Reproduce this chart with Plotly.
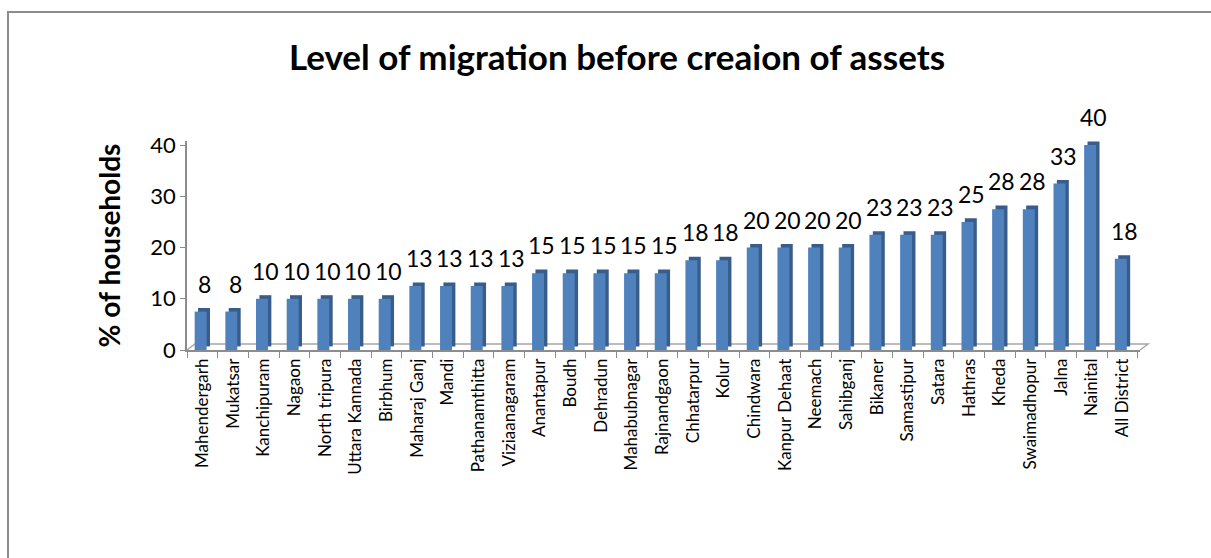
import plotly.graph_objects as go

districts = ["Mahendergarh", "Mukatsar", "Kanchipuram", "Nagaon", "North tripura",
             "Uttara Kannada", "Birbhum", "Maharaj Ganj", "Mandi", "Pathanamthitta",
             "Viziaanagaram", "Anantapur", "Boudh", "Dehradun", "Mahabubnagar",
             "Rajnandgaon", "Chhatarpur", "Kolur", "Chindwara", "Kanpur Dehaat",
             "Neemach", "Sahibganj", "Bikaner", "Samastipur", "Satara", "Hathras",
             "Kheda", "Swaimadhopur", "Jalna", "Nainital", "All District"]
values = [7.5, 7.5, 10, 10, 10, 10, 10, 12.5, 12.5, 12.5, 12.5, 15, 15, 15, 15, 15,
          17.5, 17.5, 20, 20, 20, 20, 22.5, 22.5, 22.5, 25, 27.5, 27.5, 32.5, 40, 17.8]
labels = ["8", "8", "10", "10", "10", "10", "10", "13", "13", "13", "13", "15", "15",
          "15", "15", "15", "18", "18", "20", "20", "20", "20", "23", "23", "23", "25",
          "28", "28", "33", "40", "18"]
y_ticks = [0, 10, 20, 30, 40]

FONT = "Lato"
depth = 0.7

fig = go.Figure()
# side / top face (3D look)
fig.add_trace(go.Bar(x=districts, y=values, base=[depth] * len(values),
                     width=0.39, offset=-0.14,
                     marker=dict(color="#385D8A", line=dict(width=0)),
                     hoverinfo="skip", showlegend=False))
# front face
fig.add_trace(go.Bar(x=districts, y=values,
                     width=0.39, offset=-0.25,
                     marker=dict(color="#4F81BD", line=dict(width=0)),
                     showlegend=False))

for d, v, t in zip(districts, values, labels):
    fig.add_annotation(x=d, y=v, text=t,
                       showarrow=False, yshift=28, xshift=2, yanchor="middle",
                       font=dict(family=FONT, size=23, color="black"))

# floor (3D) outline
dx, dy = 8 / 953, 6 / 209
fig.add_shape(type="path", xref="paper", yref="paper",
              path=f"M 0,0 L {dx},{dy} L {1+dx},{dy} L 1,0",
              line=dict(color="#A6A6A6", width=1.5), layer="below")
# outer chart border
fig.add_shape(type="rect", xref="paper", yref="paper",
              x0=(8 - 187) / 953, x1=1.2, y0=-1.1, y1=(350 - 12) / 209,
              line=dict(color="#8C8C8C", width=2), layer="below")

fig.update_layout(
    width=1211, height=558,
    margin=dict(l=187, r=71, t=141, b=208),
    paper_bgcolor="white", plot_bgcolor="white",
    barmode="overlay",
    title=dict(text="<b>Level of migration before creaion of assets</b>",
               x=617 / 1211, xref="container", xanchor="center",
               y=1 - 58 / 558, yref="container", yanchor="middle",
               font=dict(family=FONT, size=35, color="black")),
    xaxis=dict(type="category", showline=True, linecolor="#8C8C8C", linewidth=1.5,
               ticks="outside", tickson="boundaries", ticklen=6, tickcolor="#8C8C8C",
               tickangle=-90, showgrid=False,
               tickfont=dict(family=FONT, size=17, color="black")),
    yaxis=dict(range=[0, 40.8], tickvals=y_ticks, showline=True, linecolor="#8C8C8C",
               linewidth=1.5, ticks="outside", ticklen=5, tickcolor="#8C8C8C",
               showgrid=False, zeroline=False,
               tickfont=dict(family=FONT, size=22, color="black"),
               title=dict(text="<b>% of households</b>", standoff=22,
                          font=dict(family=FONT, size=28, color="black"))),
)

fig.write_html("out.html")
